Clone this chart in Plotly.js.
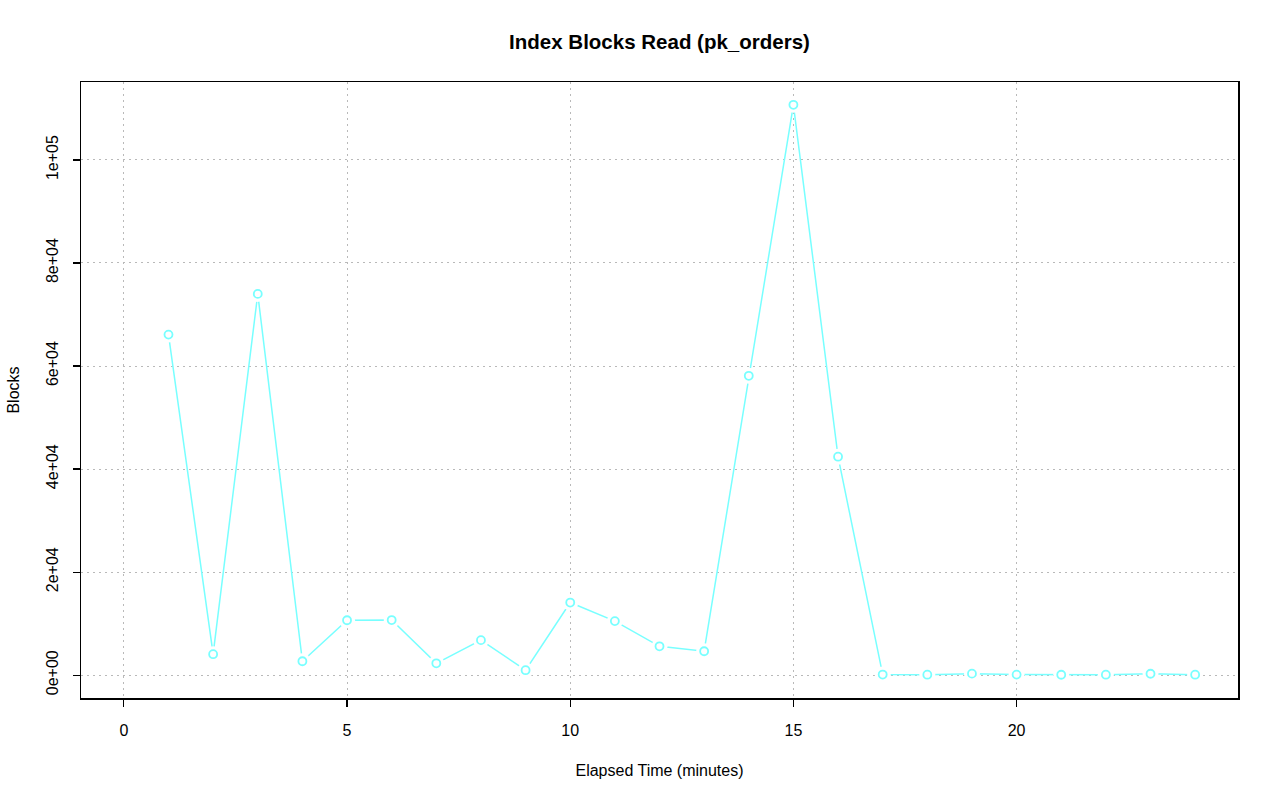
<!DOCTYPE html>
<html><head><meta charset="utf-8">
<script src="https://cdn.plot.ly/plotly-3.0.1.min.js"></script>
<style>html,body{margin:0;padding:0;background:#fff}#chart{width:1280px;height:801px}</style>
</head><body><div id="chart"></div>
<script>
const minutes = [1,2,3,4,5,6,7,8,9,10,11,12,13,14,15,16,17,18,19,20,21,22,23,24];
const blocks = [66100,4070,74000,2700,10660,10700,2300,6800,970,14100,10500,5600,4650,58100,110700,42400,120,90,300,110,80,100,280,90];
const xTicks = [0,5,10,15,20];
const yTicks = [0,20000,40000,60000,80000,100000];
const yTickText = ["0e+00","2e+04","4e+04","6e+04","8e+04","1e+05"];

const cyan = "rgb(120,255,255)";
const traces = [
  {x: minutes, y: blocks, mode: "lines", line: {color: cyan, width: 1.5}, hoverinfo: "skip", showlegend: false},
  {x: minutes, y: blocks, mode: "markers", marker: {symbol: "circle", size: 16, color: "white", line: {width: 0}}, hoverinfo: "skip", showlegend: false},
  {x: minutes, y: blocks, mode: "markers", marker: {symbol: "circle-open", size: 8, color: cyan, line: {width: 1.8, color: cyan}}, showlegend: false}
];

const font = {family: "Liberation Sans, Arial, sans-serif", size: 16, color: "black"};
const gridStyle = {showgrid: true, gridcolor: "#b9b9b9", griddash: "1.5px,4.5px", gridwidth: 1};
const layout = {
  width: 1280, height: 801,
  margin: {l: 81, r: 42, t: 82, b: 103},
  paper_bgcolor: "white", plot_bgcolor: "white",
  font: font,
  title: {text: "<b>Index Blocks Read (pk_orders)</b>", x: (659.5)/1280, xref: "container", xanchor: "center", y: 1 - 42/801, yanchor: "middle", font: {family: font.family, size: 20.5, color: "black"}},
  xaxis: Object.assign({
    range: [-0.96, 24.96], tickvals: xTicks, ticktext: xTicks.map(String),
    zeroline: false, showline: true, mirror: true, linecolor: "black", linewidth: 1.5,
    ticks: "outside", ticklen: 7, tickcolor: "black", tickwidth: 1.2, tickfont: font, ticklabelstandoff: 10,
    title: {text: "Elapsed Time (minutes)", font: font, standoff: 27}
  }, gridStyle),
  yaxis: Object.assign({
    range: [-4428, 115128], tickvals: yTicks, ticktext: yTickText, tickangle: -90,
    zeroline: false, showline: true, mirror: true, linecolor: "black", linewidth: 1.5,
    ticks: "outside", ticklen: 7, tickcolor: "black", tickwidth: 1.2, tickfont: font, ticklabelstandoff: 8,
    title: {text: "Blocks", font: font, standoff: 20}
  }, gridStyle)
};
Plotly.newPlot("chart", traces, layout, {displayModeBar: false, staticPlot: true});
</script></body></html>
